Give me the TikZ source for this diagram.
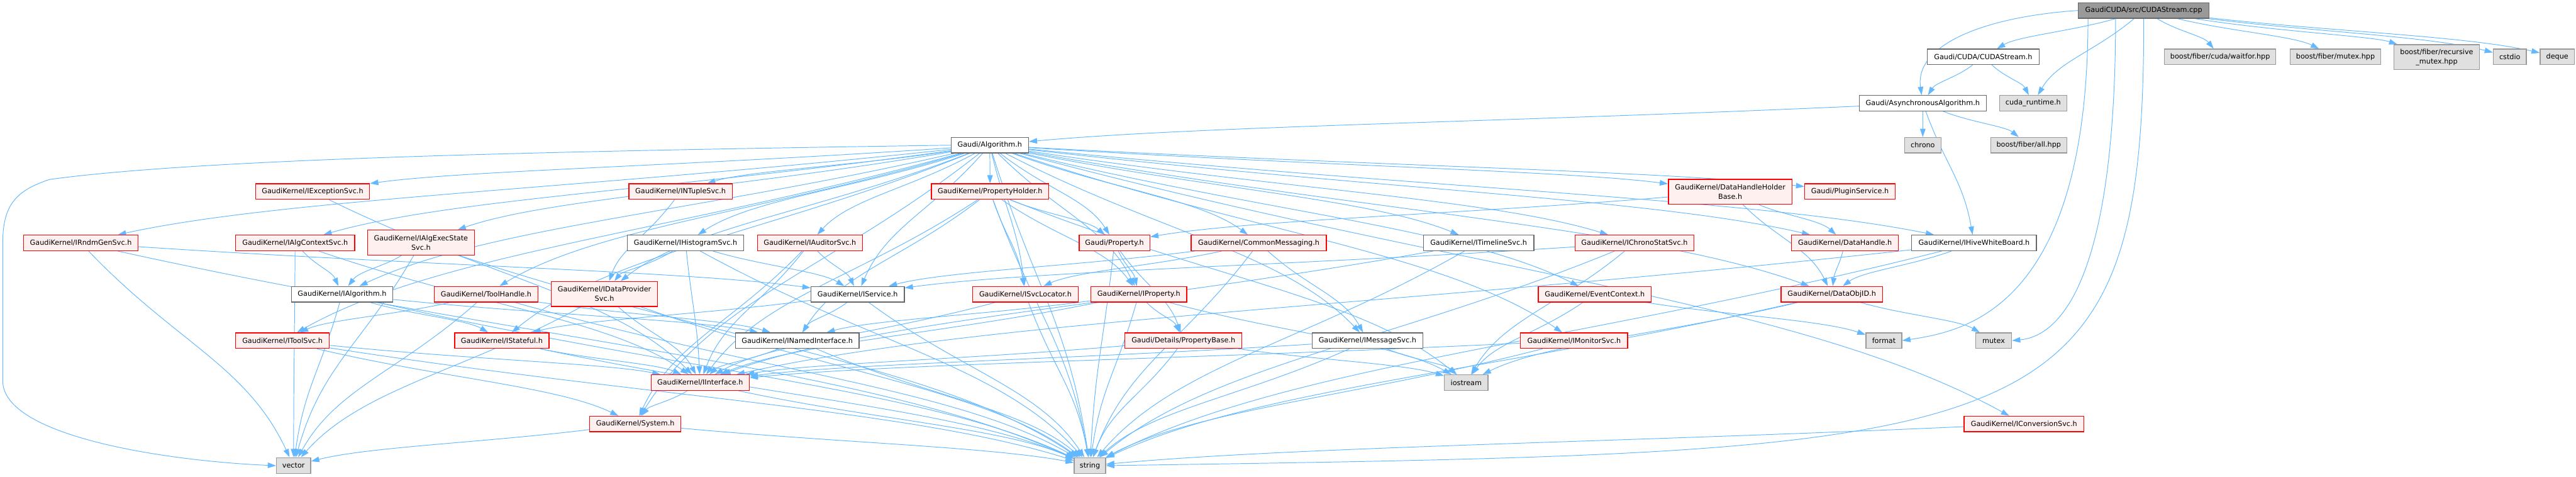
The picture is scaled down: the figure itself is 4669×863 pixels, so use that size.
\documentclass[tikz,border=0pt]{standalone}
\usepackage{fontspec}
\setmainfont{DejaVu Sans}
\usetikzlibrary{arrows.meta,calc}
\pgfdeclarelayer{background}
\pgfsetlayers{background,main}
\definecolor{edgec}{HTML}{63B8FF}
\definecolor{redfill}{HTML}{FFF0F0}
\definecolor{extfill}{HTML}{E0E0E0}
\definecolor{extdraw}{HTML}{999999}
\definecolor{graydraw}{HTML}{666666}
\definecolor{rootfill}{HTML}{999999}
\tikzset{
 box/.style={rectangle, inner sep=0pt, line width=1.5pt, font=\fontsize{12.8}{17}\selectfont, align=center, text=black},
 rn/.style={box, draw=red, fill=redfill},
 wn/.style={box, draw=graydraw, fill=white},
 gn/.style={box, draw=extdraw, fill=extfill},
 rootn/.style={box, draw=graydraw, fill=rootfill},
 edge/.style={draw=edgec, line width=1.1pt, -{Triangle[length=15pt,width=10pt]}},
}
\newcommand\nd[7]{\node[#2, minimum width={#4-#3}, minimum height={#6-#5}] (#1) at ({(#3+#4)/2},{(#5+#6)/2}) {#7};}
\newcommand\edgeto[2]{%
  \draw[edge] let \p1=(#1), \p2=(#2) in (#1) .. controls ({\x1+0.45*(\x2-\x1)},{\y1+0.45*(\y2-\y1)}) and ({\x2-0.22*(\x2-\x1)},{\y2-0.45*(\y2-\y1)}) .. (#2);}
\begin{document}
\begin{tikzpicture}[x=1pt,y=-1pt]
\useasboundingbox (0,0) rectangle (4669,863);
\nd{cpp}{rootn}{3767}{4004}{5}{33}{GaudiCUDA/src/CUDAStream.cpp}
\nd{cudah}{wn}{3493}{3696}{89}{117}{Gaudi/CUDA/CUDAStream.h}
\nd{waitfor}{gn}{3923}{4125}{89}{117}{boost/fiber/cuda/waitfor.hpp}
\nd{fmutex}{gn}{4151}{4315}{89}{117}{boost/fiber/mutex.hpp}
\nd{frmutex}{gn}{4339}{4494}{81}{126}{boost/fiber/recursive\\\_mutex.hpp}
\nd{cstdio}{gn}{4519}{4579}{89}{117}{cstdio}
\nd{deque}{gn}{4604}{4666}{89}{117}{deque}
\nd{async}{wn}{3370}{3600}{173}{201}{Gaudi/AsynchronousAlgorithm.h}
\nd{cudart}{gn}{3624}{3746}{173}{201}{cuda\_runtime.h}
\nd{chrono}{gn}{3452}{3518}{249}{277}{chrono}
\nd{fall}{gn}{3608}{3746}{249}{277}{boost/fiber/all.hpp}
\nd{alg}{wn}{1724}{1864}{249}{277}{Gaudi/Algorithm.h}
\nd{iexc}{rn}{463}{670}{333}{361}{GaudiKernel/IExceptionSvc.h}
\nd{intuple}{rn}{1140}{1327}{333}{361}{GaudiKernel/INTupleSvc.h}
\nd{propholder}{rn}{1688}{1901}{333}{361}{GaudiKernel/PropertyHolder.h}
\nd{dhhb}{rn}{3024}{3248}{325}{370}{GaudiKernel/DataHandleHolder\\Base.h}
\nd{plugin}{rn}{3271}{3435}{333}{361}{Gaudi/PluginService.h}
\nd{irndm}{rn}{43}{250}{426}{454}{GaudiKernel/IRndmGenSvc.h}
\nd{ialgctx}{rn}{427}{643}{426}{454}{GaudiKernel/IAlgContextSvc.h}
\nd{ialgexec}{rn}{666}{860}{417}{462}{GaudiKernel/IAlgExecState\\Svc.h}
\nd{ihist}{wn}{1137}{1348}{426}{454}{GaudiKernel/IHistogramSvc.h}
\nd{iaudit}{rn}{1373}{1563}{426}{454}{GaudiKernel/IAuditorSvc.h}
\nd{prop}{rn}{1956}{2084}{426}{454}{Gaudi/Property.h}
\nd{commsg}{rn}{2159}{2404}{426}{454}{GaudiKernel/CommonMessaging.h}
\nd{itimeline}{wn}{2580}{2780}{426}{454}{GaudiKernel/ITimelineSvc.h}
\nd{ichrono}{rn}{2855}{3070}{426}{454}{GaudiKernel/IChronoStatSvc.h}
\nd{dhandle}{rn}{3247}{3441}{426}{454}{GaudiKernel/DataHandle.h}
\nd{ihive}{wn}{3465}{3691}{426}{454}{GaudiKernel/IHiveWhiteBoard.h}
\nd{ialgo}{wn}{528}{712}{519}{547}{GaudiKernel/IAlgorithm.h}
\nd{toolhandle}{rn}{787}{975}{519}{547}{GaudiKernel/ToolHandle.h}
\nd{idataprov}{rn}{999}{1192}{510}{555}{GaudiKernel/IDataProvider\\Svc.h}
\nd{iservice}{wn}{1470}{1639}{519}{547}{GaudiKernel/IService.h}
\nd{isvcloc}{rn}{1763}{1954}{519}{547}{GaudiKernel/ISvcLocator.h}
\nd{iprop}{rn}{1977}{2151}{519}{547}{GaudiKernel/IProperty.h}
\nd{evctx}{rn}{2788}{2993}{519}{547}{GaudiKernel/EventContext.h}
\nd{dataobjid}{rn}{3228}{3412}{519}{547}{GaudiKernel/DataObjID.h}
\nd{itoolsvc}{rn}{427}{597}{603}{631}{GaudiKernel/IToolSvc.h}
\nd{istateful}{rn}{824}{995}{603}{631}{GaudiKernel/IStateful.h}
\nd{inamed}{wn}{1333}{1557}{603}{631}{GaudiKernel/INamedInterface.h}
\nd{propbase}{rn}{2039}{2251}{603}{631}{Gaudi/Details/PropertyBase.h}
\nd{imsgsvc}{wn}{2378}{2579}{603}{631}{GaudiKernel/IMessageSvc.h}
\nd{imonitor}{rn}{2756}{2950}{603}{631}{GaudiKernel/IMonitorSvc.h}
\nd{format}{gn}{3382}{3447}{603}{631}{format}
\nd{mutex}{gn}{3581}{3646}{603}{631}{mutex}
\nd{iinterface}{rn}{1180}{1358}{679}{707}{GaudiKernel/IInterface.h}
\nd{iostream}{gn}{2618}{2697}{679}{707}{iostream}
\nd{system}{rn}{1069}{1234}{754}{782}{GaudiKernel/System.h}
\nd{iconv}{rn}{3560}{3777}{754}{782}{GaudiKernel/IConversionSvc.h}
\nd{vector}{gn}{501}{563}{829}{858}{vector}
\nd{string}{gn}{1947}{2004}{829}{858}{string}
\begin{pgfonlayer}{background}
% CUDAStream.cpp
\edgeto{cpp}{cudah}
\draw[edge] (cpp.west) .. controls (3600,30) and (3470,80) .. (async);
\edgeto{cpp}{cudart}
\edgeto{cpp}{waitfor}
\edgeto{cpp}{fmutex}
\edgeto{cpp}{frmutex}
\edgeto{cpp}{cstdio}
\edgeto{cpp}{deque}
\draw[edge] ([xshift=-101]cpp.south) .. controls (3784,560) and (3560,600) .. (format.east);
\draw[edge] ([xshift=-51]cpp.south) .. controls (3834,540) and (3720,610) .. (mutex.east);
\draw[edge] (cpp.south) .. controls (3886,820) and (3700,818) .. (string.east);
% CUDAStream.h
\edgeto{cudah}{async}
\edgeto{cudah}{cudart}
% AsynchronousAlgorithm.h
\edgeto{async}{alg}
\edgeto{async}{chrono}
\edgeto{async}{fall}
\edgeto{async}{ihive}
% Algorithm.h
\edgeto{alg}{iexc}
\edgeto{alg}{intuple}
\edgeto{alg}{propholder}
\edgeto{alg}{dhhb}
\edgeto{alg}{plugin}
\edgeto{alg}{irndm}
\edgeto{alg}{ialgctx}
\edgeto{alg}{ialgexec}
\edgeto{alg}{ihist}
\edgeto{alg}{iaudit}
\edgeto{alg}{prop}
\edgeto{alg}{commsg}
\edgeto{alg}{itimeline}
\edgeto{alg}{ichrono}
\edgeto{alg}{dhandle}
\edgeto{alg}{ihive}
\edgeto{alg}{ialgo}
\edgeto{alg}{toolhandle}
\edgeto{alg}{idataprov}
\edgeto{alg}{iservice}
\edgeto{alg}{isvcloc}
\edgeto{alg}{iprop}
\edgeto{alg}{evctx}
\edgeto{alg}{dataobjid}
\edgeto{alg}{itoolsvc}
\edgeto{alg}{istateful}
\edgeto{alg}{imsgsvc}
\edgeto{alg}{imonitor}
\edgeto{alg}{system}
\edgeto{alg}{iconv}
\edgeto{alg}{string}
\draw[edge] (alg.west) .. controls (900,275) and (350,290) .. (90,325) .. controls (30,345) and (5,370) .. (5,440) -- (5,690) .. controls (5,790) and (300,835) .. (vector.west);
% PropertyHolder.h
\edgeto{propholder}{prop}
\edgeto{propholder}{iprop}
\edgeto{propholder}{isvcloc}
\edgeto{propholder}{iinterface}
\edgeto{propholder}{inamed}
\edgeto{propholder}{string}
\edgeto{propholder}{iostream}
% others
\edgeto{iexc}{iinterface}
\edgeto{intuple}{idataprov}
\edgeto{dhhb}{prop}
\edgeto{dhhb}{dhandle}
\edgeto{dhhb}{dataobjid}
\edgeto{irndm}{iservice}
\edgeto{irndm}{vector}
\edgeto{irndm}{string}
\edgeto{ialgctx}{ialgo}
\edgeto{ialgctx}{iinterface}
\edgeto{ialgctx}{vector}
\edgeto{ialgexec}{ialgo}
\edgeto{ialgexec}{vector}
\edgeto{ialgexec}{string}
\edgeto{ihist}{idataprov}
\edgeto{ihist}{iinterface}
\edgeto{ihist}{iservice}
\edgeto{ihist}{string}
\edgeto{iaudit}{iservice}
\edgeto{iaudit}{iinterface}
\edgeto{iaudit}{system}
\edgeto{prop}{iprop}
\edgeto{prop}{propbase}
\edgeto{prop}{string}
\edgeto{commsg}{iservice}
\edgeto{commsg}{isvcloc}
\edgeto{commsg}{imsgsvc}
\edgeto{commsg}{string}
\edgeto{itimeline}{iinterface}
\edgeto{itimeline}{string}
\edgeto{ichrono}{iservice}
\edgeto{ichrono}{string}
\edgeto{ichrono}{iostream}
\edgeto{dhandle}{dataobjid}
\edgeto{ihive}{dataobjid}
\edgeto{ihive}{iinterface}
\edgeto{ihive}{string}
\edgeto{ialgo}{istateful}
\edgeto{ialgo}{inamed}
\edgeto{ialgo}{vector}
\edgeto{ialgo}{string}
\edgeto{toolhandle}{itoolsvc}
\edgeto{toolhandle}{inamed}
\edgeto{toolhandle}{vector}
\edgeto{toolhandle}{string}
\edgeto{idataprov}{iinterface}
\edgeto{idataprov}{string}
\edgeto{idataprov}{vector}
\edgeto{iservice}{istateful}
\edgeto{iservice}{inamed}
\edgeto{iservice}{string}
\edgeto{isvcloc}{iinterface}
\edgeto{isvcloc}{string}
\edgeto{iprop}{iinterface}
\edgeto{iprop}{inamed}
\edgeto{iprop}{propbase}
\edgeto{iprop}{string}
\edgeto{iprop}{iostream}
\edgeto{evctx}{iostream}
\edgeto{evctx}{format}
\edgeto{dataobjid}{iostream}
\edgeto{dataobjid}{string}
\edgeto{dataobjid}{mutex}
\edgeto{itoolsvc}{iinterface}
\edgeto{itoolsvc}{system}
\edgeto{itoolsvc}{string}
\edgeto{istateful}{iinterface}
\edgeto{istateful}{string}
\edgeto{inamed}{iinterface}
\edgeto{inamed}{string}
\edgeto{propbase}{string}
\edgeto{propbase}{iinterface}
\edgeto{propbase}{iostream}
\edgeto{imsgsvc}{iinterface}
\edgeto{imsgsvc}{iostream}
\edgeto{imsgsvc}{string}
\edgeto{imonitor}{iinterface}
\edgeto{imonitor}{string}
\edgeto{iinterface}{system}
\edgeto{iinterface}{string}
\edgeto{system}{string}
\edgeto{system}{vector}
\edgeto{iconv}{string}
\end{pgfonlayer}
\end{tikzpicture}
\end{document}
